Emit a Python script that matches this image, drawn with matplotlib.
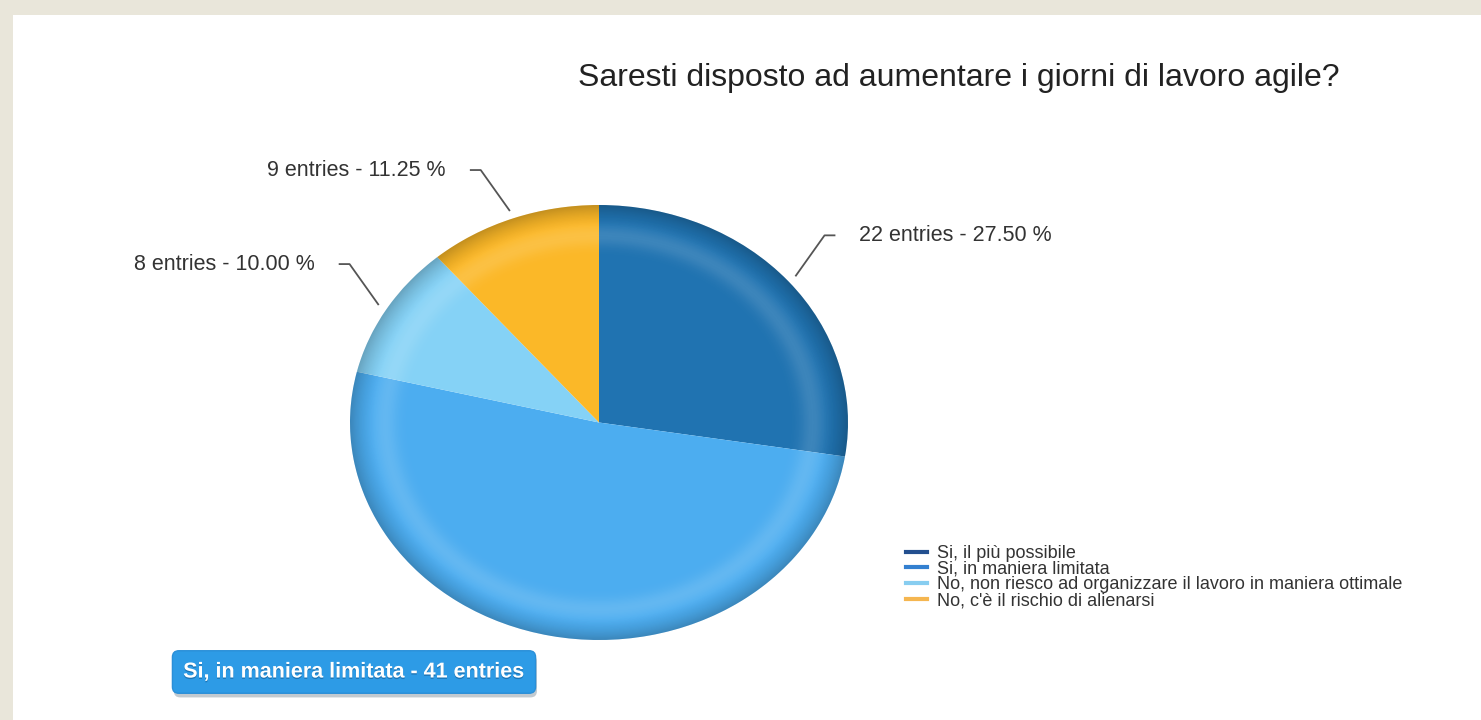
import numpy as np
import matplotlib
matplotlib.use('Agg')
import matplotlib.pyplot as plt
import matplotlib.patheffects as pe
from matplotlib.lines import Line2D
from matplotlib.patches import Rectangle, Circle

plt.rcParams['font.family'] = ['Liberation Sans', 'DejaVu Sans']

# data
title = 'Saresti disposto ad aumentare i giorni di lavoro agile?'
categories = ['Si, il più possibile',
              'Si, in maniera limitata',
              'No, non riesco ad organizzare il lavoro in maniera ottimale',
              "No, c'è il rischio di alienarsi"]
entries = [22, 41, 8, 9]
pie_colors = ['#2073b1', '#4cadf0', '#85d2f6', '#fbb828']
legend_colors = ['#234f8f', '#3380d0', '#87cdf0', '#f5b650']
highlight = 1   # slice shown in the tooltip box

W, H = 1481, 720
def px(x, y):
    return x / W, 1 - y / H

fig = plt.figure(figsize=(W / 100, H / 100), dpi=100, facecolor='#e9e6da')
fig.add_artist(Rectangle((13 / W, 0), 1, 1 - 15 / H, transform=fig.transFigure,
                         facecolor='white', edgecolor='none', zorder=-10))

# pie (elliptical)
ax = fig.add_axes([350 / W, 1 - 640 / H, 498 / W, 435 / H])
wedges, _ = ax.pie(entries, colors=pie_colors, startangle=90, counterclock=False,
                   radius=1, wedgeprops=dict(linewidth=0))

# some bevel shading
g = np.linspace(-1, 1, 600)
X, Y = np.meshgrid(g, g)
R = np.hypot(X, Y)
light = np.zeros((600, 600, 4))
light[..., :3] = 1
light[..., 3] = 0.13 * np.exp(-((R - 0.86) / 0.05) ** 2)
dark = np.zeros((600, 600, 4))
dark[..., 3] = 0.22 * np.clip((R - 0.9) / 0.1, 0, 1) ** 1.5
for img in (light, dark):
    im = ax.imshow(img, extent=(-1, 1, -1, 1), origin='lower', zorder=3,
                   interpolation='bilinear')
    im.set_clip_path(Circle((0, 0), 1, transform=ax.transData))

ax.set_aspect('auto')
ax.set_xlim(-1, 1)
ax.set_ylim(-1, 1)
ax.axis('off')

# leader lines + labels (offsets in data units of the pie axes)
total = sum(entries)
for i, w in enumerate(wedges):
    if i == highlight:
        continue
    a = np.deg2rad((w.theta1 + w.theta2) / 2)
    c, s = np.cos(a), np.sin(a)
    sg = 1 if c > 0 else -1
    x0, y0 = 1.04 * c, 1.04 * s
    x1, y1 = x0 + sg * 0.115, y0 + 0.185
    x2 = x1 + sg * 0.04
    ax.plot([x0, x1, x2], [y0, y1, y1], color='#555555', lw=1.3, clip_on=False)
    ax.text(x2 + sg * 0.1, y1, '%d entries - %.2f %%' % (entries[i], 100.0 * entries[i] / total),
            ha='left' if sg > 0 else 'right', va='center', fontsize=15.5, color='#333333')

# title
fig.text(*px(959, 78), title, ha='center', va='center', fontsize=23, color='#222222')

# legend
handles = [Line2D([], [], color=c, lw=3) for c in legend_colors]
fig.legend(handles, categories, loc='upper left', bbox_to_anchor=px(906, 545),
           frameon=False, fontsize=13, handlelength=1.15, handletextpad=0.55,
           labelspacing=-0.07, borderpad=0, borderaxespad=0, labelcolor='#333333')

# tooltip box
t = fig.text(*px(354, 672), '%s - %d entries' % (categories[highlight], entries[highlight]),
             ha='center', va='center', color='white', fontsize=15.5, fontweight='bold',
             bbox=dict(boxstyle='round,pad=0.5,rounding_size=0.3', facecolor='#2d9be6',
                       edgecolor='#2a8fd8', lw=1))
t.set_path_effects([pe.withSimplePatchShadow(offset=(0, -1), shadow_rgbFace='#0d4f85', alpha=0.5)])
t.get_bbox_patch().set_path_effects([pe.SimplePatchShadow(offset=(1, -3), alpha=0.25), pe.Normal()])

fig.savefig('out.png', dpi=100, facecolor=fig.get_facecolor())
